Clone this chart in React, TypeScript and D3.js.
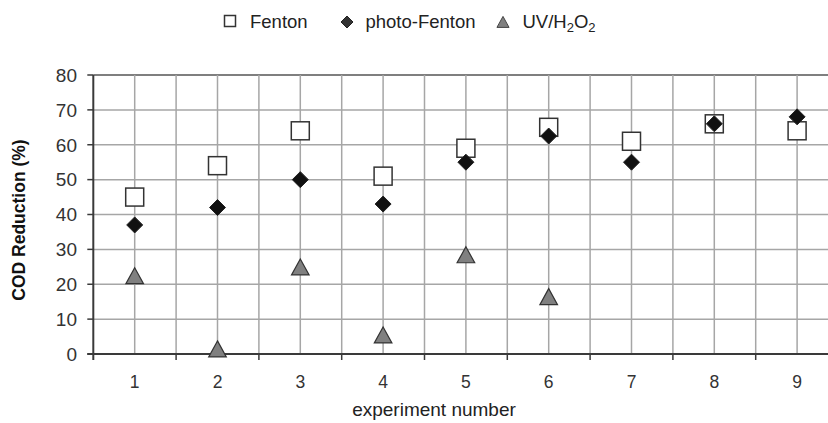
import React from "react";
import * as d3 from "d3";

const categories = ["1", "2", "3", "4", "5", "6", "7", "8", "9"];
const fenton = [45, 54, 64, 51, 59, 65, 61, 66, 64];
const photoFenton = [37, 42, 50, 43, 55, 62.5, 55, 66, 68];
const uvH2O2: (number | null)[] = [22, 1, 24.5, 5, 28, 16, null, null, null];
const yTicks = [0, 10, 20, 30, 40, 50, 60, 70, 80];

const W = 828;
const H = 423;
const left = 93.3;
const bandW = 82.8;
const top = 75;
const bottom = 354;
const font = "'Liberation Sans', Arial, sans-serif";

export default function App() {
  const x = d3
    .scaleBand<string>()
    .domain(categories)
    .range([left, left + bandW * categories.length])
    .paddingInner(0)
    .paddingOuter(0);
  const y = d3.scaleLinear().domain([0, 80]).range([bottom, top]);
  const cx = (c: string) => (x(c) as number) + x.bandwidth() / 2;
  const tri = (s: number) => {
    const h = s;
    const w = s * 1.1;
    return `M0,${-h * 0.6}L${w / 2},${h * 0.4}L${-w / 2},${h * 0.4}Z`;
  };
  const diamond = (s: number) => `M0,${-s / 2}L${s / 2},0L0,${s / 2}L${-s / 2},0Z`;
  const gridCol = "#a6a6a6";
  const axisCol = "#3a3a3a";
  const right = W + 20;

  return (
    <svg
      width={W}
      height={H}
      style={{ position: "absolute", left: 0, top: 0, background: "#fff" }}
      fontFamily={font}
    >
      <rect x={0} y={0} width={W} height={H} fill="#fff" />
      {yTicks.map((t) => (
        <line
          key={"h" + t}
          x1={left}
          x2={right}
          y1={y(t)}
          y2={y(t)}
          stroke={t === 80 ? "#555" : gridCol}
          strokeWidth={1.5}
        />
      ))}
      {categories.map((c) => (
        <g key={"v" + c}>
          <line x1={cx(c)} x2={cx(c)} y1={top} y2={bottom} stroke={gridCol} strokeWidth={1.5} />
          <line
            x1={(x(c) as number) + bandW}
            x2={(x(c) as number) + bandW}
            y1={top}
            y2={bottom}
            stroke={gridCol}
            strokeWidth={1.5}
          />
        </g>
      ))}
      <line x1={left} x2={left} y1={top} y2={bottom + 6} stroke={axisCol} strokeWidth={2} />
      <line x1={left - 6} x2={right} y1={bottom} y2={bottom} stroke={axisCol} strokeWidth={2} />
      {yTicks.map((t) => (
        <g key={"yt" + t}>
          <line x1={left - 6} x2={left} y1={y(t)} y2={y(t)} stroke={axisCol} strokeWidth={1.5} />
          <text x={77} y={y(t)} dy="0.36em" textAnchor="end" fontSize={19} fill="#333">
            {t}
          </text>
        </g>
      ))}
      {categories.map((c) => (
        <g key={"xt" + c}>
          <line
            x1={(x(c) as number) + bandW}
            x2={(x(c) as number) + bandW}
            y1={bottom}
            y2={bottom + 6}
            stroke={axisCol}
            strokeWidth={1.5}
          />
          <text x={cx(c)} y={388} textAnchor="middle" fontSize={17.5} fill="#333">
            {c}
          </text>
        </g>
      ))}
      <text x={434} y={416} textAnchor="middle" fontSize={19} fill="#222">
        experiment number
      </text>
      <text
        transform={`translate(25,220) rotate(-90)`}
        textAnchor="middle"
        fontSize={17.5}
        fontWeight="bold"
        fill="#111"
      >
        COD Reduction (%)
      </text>

      {uvH2O2.map((v, i) =>
        v == null ? null : (
          <path
            key={"u" + i}
            d={tri(16)}
            transform={`translate(${cx(categories[i])},${y(v)})`}
            fill="#808080"
            stroke="#333"
            strokeWidth={1.2}
          />
        )
      )}
      {fenton.map((v, i) => (
        <rect
          key={"f" + i}
          x={cx(categories[i]) - 9}
          y={y(v) - 9}
          width={18}
          height={18}
          fill="#fff"
          stroke="#333"
          strokeWidth={1.5}
        />
      ))}
      {photoFenton.map((v, i) => (
        <path
          key={"p" + i}
          d={diamond(16)}
          transform={`translate(${cx(categories[i])},${y(v)})`}
          fill="#111"
          stroke="#222"
          strokeWidth={1}
        />
      ))}

      <rect x={224.5} y={15.5} width={11} height={11} fill="#fff" stroke="#333" strokeWidth={1.5} />
      <text x={250} y={21.5} dy="0.36em" fontSize={18.5} fill="#222">
        Fenton
      </text>
      <path d={diamond(12)} transform="translate(347,22)" fill="#333" stroke="#222" strokeWidth={1} />
      <text x={365.5} y={21.5} dy="0.36em" fontSize={18.5} fill="#222">
        photo-Fenton
      </text>
      <path d={tri(11)} transform="translate(503,23)" fill="#808080" stroke="#444" strokeWidth={1} />
      <text x={522.5} y={21.5} dy="0.36em" fontSize={18.5} fill="#222">
        UV/H
        <tspan fontSize={13} dy="4">2</tspan>
        <tspan dy="-4">O</tspan>
        <tspan fontSize={13} dy="4">2</tspan>
      </text>
    </svg>
  );
}
